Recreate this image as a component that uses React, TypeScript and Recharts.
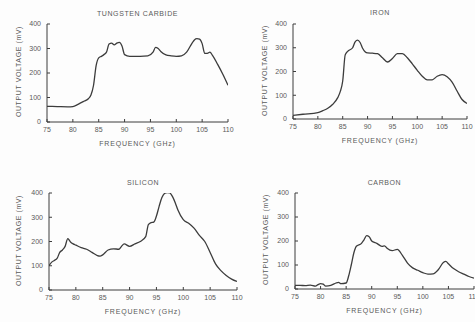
import React from 'react'
import { LineChart, Line, XAxis, YAxis } from 'recharts'

const freqTicks = [75, 80, 85, 90, 95, 100, 105, 110]
const voltTicks = [0, 100, 200, 300, 400]

const tungstenFreq = [75, 77, 79, 80, 81, 82, 83, 83.5, 84, 84.5, 85, 85.5, 86, 86.5, 87, 87.5, 88, 88.5, 89, 89.5, 90, 91, 93, 94.5, 95.5, 96, 96.5, 97, 98, 99, 100, 101, 102, 103, 103.5, 104, 104.5, 105, 105.5, 106, 106.5, 107, 108, 109, 110]
const tungstenMv = [64, 63, 62, 63, 72, 83, 95, 110, 150, 230, 262, 268, 275, 285, 318, 322, 315, 322, 325, 310, 275, 268, 268, 270, 285, 305, 300, 288, 274, 270, 268, 270, 285, 320, 335, 340, 338, 320, 280, 280, 285, 272, 235, 195, 150]

const ironFreq = [75, 77, 80, 81, 82, 83, 84, 84.5, 85, 85.5, 86, 87, 87.5, 88, 88.5, 89, 89.5, 90, 91, 92, 93, 94, 95, 96, 97, 98, 99, 100, 101, 102, 103, 104, 105, 106, 107, 108, 109, 110]
const ironMv = [15, 20, 27, 35, 45, 62, 90, 115, 160, 270, 285, 300, 325, 332, 322, 298, 283, 278, 277, 275, 258, 240, 255, 275, 275, 258, 232, 205, 180, 165, 165, 180, 187, 178, 155, 118, 82, 65]

const siliconFreq = [75, 75.5, 76, 76.5, 77, 77.5, 78, 78.5, 79, 79.5, 80, 81, 82, 83, 84, 84.5, 85, 86, 87, 88, 88.5, 89, 90, 91, 92, 93, 93.5, 94, 94.5, 95, 95.5, 96, 96.5, 97, 97.5, 98, 98.5, 99, 100, 101, 102, 103, 104, 105, 106, 107, 108, 109, 110]
const siliconMv = [100, 115, 122, 130, 155, 165, 180, 212, 198, 190, 185, 175, 168, 155, 142, 140, 145, 165, 170, 168, 180, 190, 180, 190, 200, 220, 270, 278, 280, 305, 345, 380, 398, 402, 400, 385, 360, 330, 290, 275, 255, 225, 200, 155, 108, 80, 60, 45, 35]

const carbonFreq = [75, 76, 77, 78, 79, 79.5, 80, 80.5, 81, 82, 83, 83.5, 84, 85, 85.5, 86, 86.5, 87, 88, 88.5, 89, 89.5, 90, 91, 92, 92.5, 93, 94, 95, 96, 97, 98, 99, 100, 101, 102, 103, 104, 104.5, 105, 106, 107, 108, 109, 110]
const carbonMv = [15, 15, 14, 16, 12, 18, 22, 20, 12, 15, 25, 28, 22, 25, 55, 100, 150, 178, 190, 205, 222, 218, 200, 190, 178, 180, 170, 160, 165, 140, 108, 88, 78, 68, 62, 63, 80, 110, 115, 105, 85, 72, 62, 52, 45]

const toRows = (freq: number[], mv: number[]) => freq.map((f, i) => ({ f, mv: mv[i] }))

const INK = '#3c3c3c'
const TEXT = '#5a5a5a'
const FONT = '"Liberation Sans", Arial, sans-serif'
const Y_W = 30
const X_H = 16
const PAD_T = 6
const PAD_R = 10

interface PanelProps {
  title: string
  rows: { f: number; mv: number }[]
  left: number
  top: number
  w: number
  h: number
  titleY: number
  yLabelX: number
}

function Panel({ title, rows, left, top, w, h, titleY, yLabelX }: PanelProps) {
  const tick = { fontSize: 7, fill: TEXT, fontFamily: FONT }
  return (
    <>
      <div style={{ position: 'absolute', left, top: titleY - 5, width: w, textAlign: 'center', fontSize: 7, letterSpacing: 0.6, color: TEXT, fontFamily: FONT }}>
        {title}
      </div>
      <div style={{ position: 'absolute', left: yLabelX - 60, top: top + h / 2 - 5, width: 120, textAlign: 'center', fontSize: 7, letterSpacing: 0.6, color: TEXT, fontFamily: FONT, transform: 'rotate(-90deg)' }}>
        OUTPUT VOLTAGE (mV)
      </div>
      <div style={{ position: 'absolute', left, top: top + h + 18, width: w, textAlign: 'center', fontSize: 7, letterSpacing: 0.8, color: TEXT, fontFamily: FONT }}>
        FREQUENCY (GHz)
      </div>
      <div style={{ position: 'absolute', left: left - Y_W, top: top - PAD_T }}>
        <LineChart width={Y_W + w + PAD_R} height={h + X_H + PAD_T} data={rows} margin={{ top: PAD_T, right: PAD_R, bottom: 0, left: 0 }}>
          <XAxis dataKey="f" type="number" domain={[75, 110]} ticks={freqTicks} height={X_H}
            stroke={INK} tickSize={-3} tickMargin={8} tick={tick} interval={0} allowDataOverflow />
          <XAxis xAxisId="top" orientation="top" type="number" domain={[75, 110]} ticks={freqTicks} height={0}
            stroke={INK} tickSize={-3} tickFormatter={() => ''} allowDataOverflow />
          <YAxis type="number" domain={[0, 400]} ticks={voltTicks} width={Y_W}
            stroke={INK} tickSize={-3} tickMargin={9} tick={tick} interval={0} allowDataOverflow />
          <YAxis yAxisId="right" orientation="right" type="number" domain={[0, 400]} ticks={voltTicks} width={0}
            stroke={INK} tickSize={-3} tickFormatter={() => ''} allowDataOverflow />
          <Line type="monotone" dataKey="mv" stroke={INK} strokeWidth={1.3} dot={false} isAnimationActive={false} />
        </LineChart>
      </div>
    </>
  )
}

export default function App() {
  return (
    <div style={{ position: 'absolute', left: 0, top: 0, width: 475, height: 322, overflow: 'hidden', background: '#fdfdfd' }}>
      <Panel title="TUNGSTEN CARBIDE" rows={toRows(tungstenFreq, tungstenMv)} left={47} top={24} w={181} h={98} titleY={15} yLabelX={18} />
      <Panel title="IRON" rows={toRows(ironFreq, ironMv)} left={293} top={24} w={174} h={95} titleY={14} yLabelX={264} />
      <Panel title="SILICON" rows={toRows(siliconFreq, siliconMv)} left={49} top={193} w={188} h={97} titleY={184} yLabelX={18} />
      <Panel title="CARBON" rows={toRows(carbonFreq, carbonMv)} left={295} top={193} w={179} h={96} titleY={184} yLabelX={265} />
    </div>
  )
}
